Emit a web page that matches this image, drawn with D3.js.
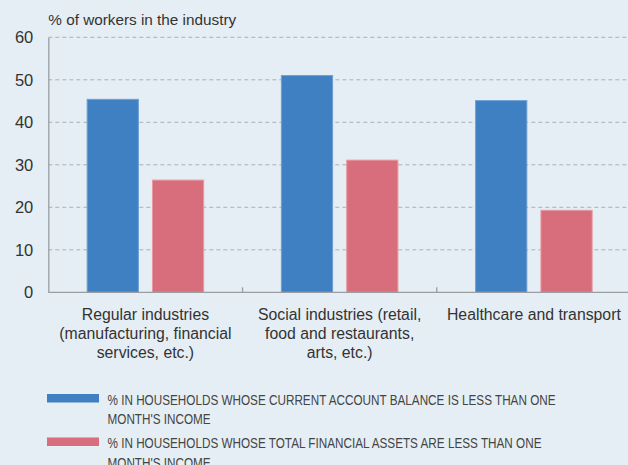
<!DOCTYPE html>
<html>
<head>
<meta charset="utf-8">
<script src="https://cdn.jsdelivr.net/npm/d3@7"></script>
<style>
  html, body { margin: 0; padding: 0; background: #e5eef4; }
  svg { display: block; }
  text { font-family: "Liberation Sans", Arial, Helvetica, sans-serif; fill: #333; }
  .legend text { fill: #444; }
</style>
</head>
<body>
<svg id="chart" width="628" height="465"></svg>
<script>
// Share of workers per industry group
const categories = ["regular", "social", "health"];
const categoryLines = [
  ["Regular industries", "(manufacturing, financial", "services, etc.)"],
  ["Social industries (retail,", "food and restaurants,", "arts, etc.)"],
  ["Healthcare and transport"]
];
const seriesKeys = ["current", "assets"];
const currentAccount = [45.4, 51.0, 45.1];
const financialAssets = [26.4, 31.1, 19.3];
const yTicks = [0, 10, 20, 30, 40, 50, 60];
const legendLines = [
  ["% IN HOUSEHOLDS WHOSE CURRENT ACCOUNT BALANCE IS LESS THAN ONE", "MONTH'S INCOME"],
  ["% IN HOUSEHOLDS WHOSE TOTAL FINANCIAL ASSETS ARE LESS THAN ONE", "MONTH'S INCOME"]
];
const colors = ["#3f80c2", "#d86e7b"];
const strokes = ["#6d9fd3", "#e79aa3"];

const svg = d3.select("#chart");
const plotLeft = 48.3, plotRight = 631, plotTop = 37.3, plotBottom = 292.3;

const x0 = d3.scaleBand().domain(categories).range([plotLeft, plotRight]);
const bw = x0.bandwidth();
const x1 = d3.scaleBand().domain(seriesKeys).range([bw * 0.2, bw * 0.8]).paddingInner(0.2156);
const y = d3.scaleLinear().domain([0, 60]).range([plotBottom, plotTop]);

const values = { current: currentAccount, assets: financialAssets };

// dashed grid
svg.append("g").selectAll("line")
  .data(yTicks.filter(t => t > 0))
  .join("line")
  .attr("x1", plotLeft).attr("x2", 628)
  .attr("y1", d => y(d)).attr("y2", d => y(d))
  .attr("stroke", "#aab0b5").attr("stroke-width", 1)
  .attr("stroke-dasharray", "4,3");

// y axis
const yAxis = d3.axisLeft(y).tickValues(yTicks).tickSize(0).tickPadding(15);
const gy = svg.append("g").attr("transform", `translate(${plotLeft},0)`).call(yAxis);
gy.select(".domain").attr("stroke", "#9a9ea2").attr("stroke-width", 1.3);
gy.selectAll("text").attr("font-size", 16.5).attr("fill", "#222")
  .attr("font-family", "'Liberation Sans', Arial, sans-serif");

// bars
const groups = svg.append("g").selectAll("g")
  .data(categories)
  .join("g")
  .attr("transform", d => `translate(${x0(d)},0)`);

groups.selectAll("rect")
  .data((c, i) => seriesKeys.map((k, j) => ({ key: k, value: values[k][i], j })))
  .join("rect")
  .attr("x", d => x1(d.key))
  .attr("width", x1.bandwidth())
  .attr("y", d => y(d.value))
  .attr("height", d => y(0) - y(d.value))
  .attr("fill", d => colors[d.j])
  .attr("stroke", d => strokes[d.j])
  .attr("stroke-width", 1);

// x axis baseline with upward ticks at category boundaries
const xAxisG = svg.append("g");
xAxisG.append("line")
  .attr("x1", plotLeft).attr("x2", 628)
  .attr("y1", plotBottom).attr("y2", plotBottom)
  .attr("stroke", "#9a9ea2").attr("stroke-width", 1.3);
xAxisG.selectAll("line.tick")
  .data(categories.slice(1))
  .join("line")
  .attr("class", "tick")
  .attr("x1", d => x0(d)).attr("x2", d => x0(d))
  .attr("y1", plotBottom).attr("y2", plotBottom - 5)
  .attr("stroke", "#9a9ea2").attr("stroke-width", 1.3);

// category labels
const catText = svg.append("g").selectAll("text")
  .data(categories)
  .join("text")
  .attr("text-anchor", "middle")
  .attr("font-size", 15.8)
  .attr("fill", "#333");
catText.each(function (d, i) {
  d3.select(this).selectAll("tspan")
    .data(categoryLines[i])
    .join("tspan")
    .attr("x", x0(d) + bw / 2)
    .attr("y", (l, k) => 319.5 + k * 19.3)
    .text(l => l);
});

// y-axis title
svg.append("text")
  .attr("x", plotLeft).attr("y", 24.5)
  .attr("font-size", 15.3)
  .attr("fill", "#333")
  .text("% of workers in the industry");

// legend, horizontally squeezed to a condensed look
const legend = svg.append("g").attr("class", "legend");
const legendRowTop = [394, 437.5];
const condense = 0.782;
seriesKeys.forEach((k, i) => {
  legend.append("rect")
    .attr("x", 47).attr("y", legendRowTop[i])
    .attr("width", 52).attr("height", 8.5)
    .attr("fill", colors[i]);
  legend.selectAll(null)
    .data(legendLines[i])
    .join("g")
    .attr("transform", (l, j) => `translate(107.5,${legendRowTop[i] + 10.5 + j * 19.5}) scale(${condense},1)`)
    .append("text")
    .attr("font-size", 15)
    .text(l => l);
});
</script>
</body>
</html>
